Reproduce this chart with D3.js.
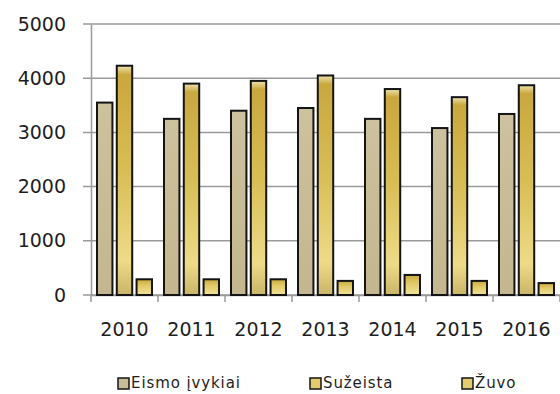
<!DOCTYPE html>
<html>
<head>
<meta charset="utf-8">
<script src="https://cdn.jsdelivr.net/npm/d3@7"></script>
<style>
  body { margin: 0; background: #fff; }
  svg { display: block; }
</style>
</head>
<body>
<svg id="chart"></svg>
<script>
var years = ["2010", "2011", "2012", "2013", "2014", "2015", "2016"];
var seriesNames = ["Eismo įvykiai", "Sužeista", "Žuvo"];
var eismo = [3550, 3250, 3400, 3450, 3250, 3080, 3340];
var suzeista = [4230, 3900, 3950, 4050, 3800, 3650, 3870];
var zuvo = [290, 290, 290, 260, 370, 260, 220];
var yTicks = [0, 1000, 2000, 3000, 4000, 5000];

var width = 560;
var height = 394;
var margin = {top: 24, left: 91, right: 0, bottom: 99};

var data = years.map(function (y, i) {
    return {year: y, values: [eismo[i], suzeista[i], zuvo[i]]};
});

var svg = d3.select("#chart")
    .attr("width", width)
    .attr("height", height);

var defs = svg.append("defs");

// gradients for the three series
function vgrad(id, stops) {
    var g = defs.append("linearGradient")
        .attr("id", id)
        .attr("x1", 0).attr("y1", 0).attr("x2", 0).attr("y2", 1);
    stops.forEach(function (s) {
        g.append("stop").attr("offset", s[0]).attr("stop-color", s[1]);
    });
}
vgrad("g0", [[0, "#cdc29e"], [0.5, "#c8bc96"], [1, "#c4b78f"]]);
vgrad("g1", [[0, "#efe3b0"], [0.04, "#c9a83e"], [0.45, "#d8bd55"], [0.85, "#eedb88"], [1, "#c9b468"]]);
vgrad("g2", [[0, "#c9a83e"], [0.4, "#e2c964"], [1, "#f1e39a"]]);

var xScale = d3.scaleBand()
    .domain(years)
    .range([margin.left, margin.left + 67 * years.length]);

var inner = d3.scaleBand()
    .domain([0, 1, 2])
    .range([6, 61])
    .paddingInner(0.22);

var yScale = d3.scaleLinear()
    .domain([0, 5000])
    .range([height - margin.bottom, margin.top]);

// gridlines
svg.append("g")
    .selectAll("line")
    .data(yTicks)
    .enter().append("line")
    .attr("x1", margin.left - 8)
    .attr("x2", width)
    .attr("y1", function (d) { return yScale(d); })
    .attr("y2", function (d) { return yScale(d); })
    .attr("stroke", "#9a9a9a")
    .attr("stroke-width", 1.5);

// y axis labels
var yAxis = d3.axisLeft(yScale).tickValues(yTicks).tickFormat(d3.format("d")).tickSize(0).tickPadding(25);
var yg = svg.append("g")
    .attr("transform", "translate(" + margin.left + ",0)")
    .call(yAxis);
yg.select(".domain").attr("stroke", "#9a9a9a").attr("stroke-width", 1.5);
yg.selectAll("text")
    .attr("fill", "#1e1e1e")
    .style("font-size", "19px")
    .attr("font-family", "DejaVu Sans, Verdana, sans-serif");

// x axis
var xAxis = d3.axisBottom(xScale).tickSize(0).tickPadding(28);
var xg = svg.append("g")
    .attr("transform", "translate(0," + yScale(0) + ")")
    .call(xAxis);
xg.select(".domain").attr("stroke", "#9a9a9a").attr("stroke-width", 1.5);
xg.selectAll("text")
    .attr("fill", "#1e1e1e")
    .style("font-size", "19px")
    .attr("font-family", "DejaVu Sans, Verdana, sans-serif");

// band boundary ticks
svg.append("g")
    .selectAll("line")
    .data(years.concat(["end"]))
    .enter().append("line")
    .attr("x1", function (d, i) { return margin.left + i * xScale.bandwidth(); })
    .attr("x2", function (d, i) { return margin.left + i * xScale.bandwidth(); })
    .attr("y1", yScale(0))
    .attr("y2", yScale(0) + 7)
    .attr("stroke", "#9a9a9a")
    .attr("stroke-width", 1.5);

// bars
var groups = svg.selectAll(".grp")
    .data(data)
    .enter().append("g")
    .attr("class", "grp")
    .attr("transform", function (d) { return "translate(" + xScale(d.year) + ",0)"; });

groups.selectAll("rect")
    .data(function (d) { return d.values; })
    .enter().append("rect")
    .attr("x", function (d, i) { return inner(i); })
    .attr("y", function (d) { return yScale(d); })
    .attr("width", inner.bandwidth())
    .attr("height", function (d) { return yScale(0) - yScale(d); })
    .attr("fill", function (d, i) { return "url(#g" + i + ")"; })
    .attr("stroke", "#141414")
    .attr("stroke-width", 2);

// legend
var legendX = [118, 310, 462];
var legend = svg.append("g")
    .selectAll("g")
    .data(seriesNames)
    .enter().append("g")
    .attr("transform", function (d, i) { return "translate(" + legendX[i] + ",383)"; });

legend.append("rect")
    .attr("x", 0)
    .attr("y", -5)
    .attr("width", 11)
    .attr("height", 11)
    .attr("fill", function (d, i) { return ["#c8bc96", "#e2cb6c", "#e2cb6c"][i]; })
    .attr("stroke", "#141414")
    .attr("stroke-width", 1.5);

legend.append("text")
    .attr("x", 13)
    .attr("y", 0)
    .attr("dy", "0.35em")
    .attr("fill", "#1e1e1e")
    .style("font-size", "15px")
    .style("letter-spacing", "0.9px")
    .attr("font-family", "DejaVu Sans, Verdana, sans-serif")
    .text(function (d) { return d; });
</script>
</body>
</html>
